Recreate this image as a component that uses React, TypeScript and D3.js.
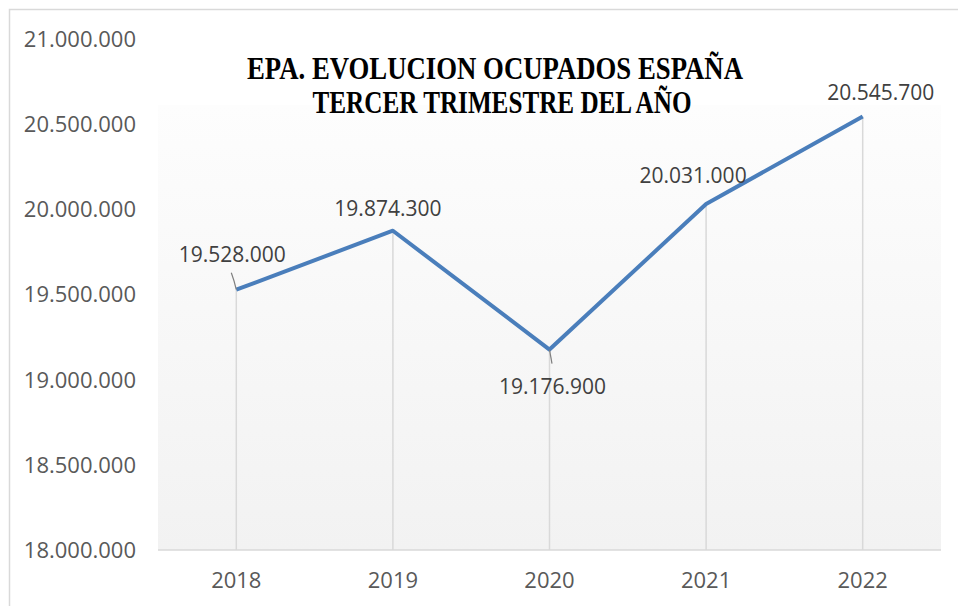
import React from "react";
import * as d3 from "d3";

const years = ["2018", "2019", "2020", "2021", "2022"];
const ocupados = [19528000, 19874300, 19176900, 20031000, 20545700];
const yTicks = [18000000, 18500000, 19000000, 19500000, 20000000, 20500000, 21000000];
const titleLines = ["EPA. EVOLUCION OCUPADOS ESPAÑA", "TERCER TRIMESTRE DEL AÑO"];

// label offsets from each point (dx, dy of baseline centre)
const labelOffsets: [number, number][] = [
  [-4, -28],
  [-5, -15],
  [3, 44],
  [-13, -21],
  [18, -16],
];

const W = 958;
const H = 606;
const plot = { left: 158, right: 941, top: 39, bottom: 550 };

const fmt = (v: number) => d3.format(",")(v).replace(/,/g, ".");

export default function App() {
  const x = d3.scaleBand<string>().domain(years).range([plot.left, plot.right]);
  const y = d3.scaleLinear().domain([18000000, 21000000]).range([plot.bottom, plot.top]);
  const cx = (yr: string) => (x(yr) ?? 0) + x.bandwidth() / 2;

  const line = d3
    .line<number>()
    .x((_, i) => cx(years[i]))
    .y((d) => y(d));

  const gradStart = (105 - plot.top) / (plot.bottom - plot.top);

  return (
    <svg
      width={W}
      height={H}
      style={{ position: "absolute", left: 0, top: 0, background: "#fff" }}
    >
      <defs>
        <linearGradient id="plotbg" x1="0" y1="0" x2="0" y2="1">
          <stop offset="0" stopColor="#ffffff" />
          <stop offset={gradStart} stopColor="#ffffff" />
          <stop offset={gradStart + 0.001} stopColor="#fdfdfd" />
          <stop offset="1" stopColor="#f2f2f2" />
        </linearGradient>
      </defs>

      {/* chart frame (cropped on the right and bottom) */}
      <path d={`M9.5,${H} V9.5 H${W}`} fill="none" stroke="#d9d9d9" strokeWidth={1.5} />

      {/* plot area */}
      <rect
        x={plot.left}
        y={plot.top}
        width={plot.right - plot.left}
        height={plot.bottom - plot.top}
        fill="url(#plotbg)"
      />

      {/* drop lines */}
      {ocupados.map((v, i) => (
        <line
          key={years[i]}
          x1={cx(years[i])}
          x2={cx(years[i])}
          y1={y(v)}
          y2={plot.bottom}
          stroke="#d9d9d9"
          strokeWidth={1.5}
        />
      ))}

      {/* category axis line */}
      <line x1={plot.left} x2={plot.right} y1={plot.bottom} y2={plot.bottom} stroke="#d9d9d9" strokeWidth={1.5} />

      {/* y tick labels */}
      <g fontFamily="Open Sans" fontSize={22} fill="#595959" textAnchor="end">
        {yTicks.map((t) => (
          <text key={t} x={136} y={y(t)} dy="0.36em">
            {fmt(t)}
          </text>
        ))}
      </g>

      {/* x tick labels */}
      <g fontFamily="Open Sans" fontSize={22} fill="#595959" textAnchor="middle">
        {years.map((yr) => (
          <text key={yr} x={cx(yr)} y={588}>
            {yr}
          </text>
        ))}
      </g>

      {/* title */}
      <g fontFamily="Liberation Serif" fontWeight="bold" fontSize={32} fill="#000" textAnchor="middle">
        <text x={495} y={79} textLength={496} lengthAdjust="spacingAndGlyphs">
          {titleLines[0]}
        </text>
        <text x={502} y={113} textLength={379} lengthAdjust="spacingAndGlyphs">
          {titleLines[1]}
        </text>
      </g>

      {/* series line */}
      <path d={line(ocupados) ?? ""} fill="none" stroke="#4a7ebb" strokeWidth={4} strokeLinejoin="round" />

      {/* leader lines */}
      <path
        d={`M${cx(years[0]) - 5},${y(ocupados[0]) - 17} Q${cx(years[0]) - 2},${y(ocupados[0]) - 9} ${cx(years[0])},${y(ocupados[0])}`}
        fill="none"
        stroke="#7f7f7f"
        strokeWidth={1.2}
      />
      <path
        d={`M${cx(years[2])},${y(ocupados[2])} L${cx(years[2]) + 2.5},${y(ocupados[2]) + 14}`}
        fill="none"
        stroke="#7f7f7f"
        strokeWidth={1.2}
      />

      {/* data labels */}
      <g fontFamily="Open Sans" fontSize={21} fill="#404040" textAnchor="middle">
        {ocupados.map((v, i) => (
          <text key={years[i]} x={cx(years[i]) + labelOffsets[i][0]} y={y(v) + labelOffsets[i][1]}>
            {fmt(v)}
          </text>
        ))}
      </g>
    </svg>
  );
}
